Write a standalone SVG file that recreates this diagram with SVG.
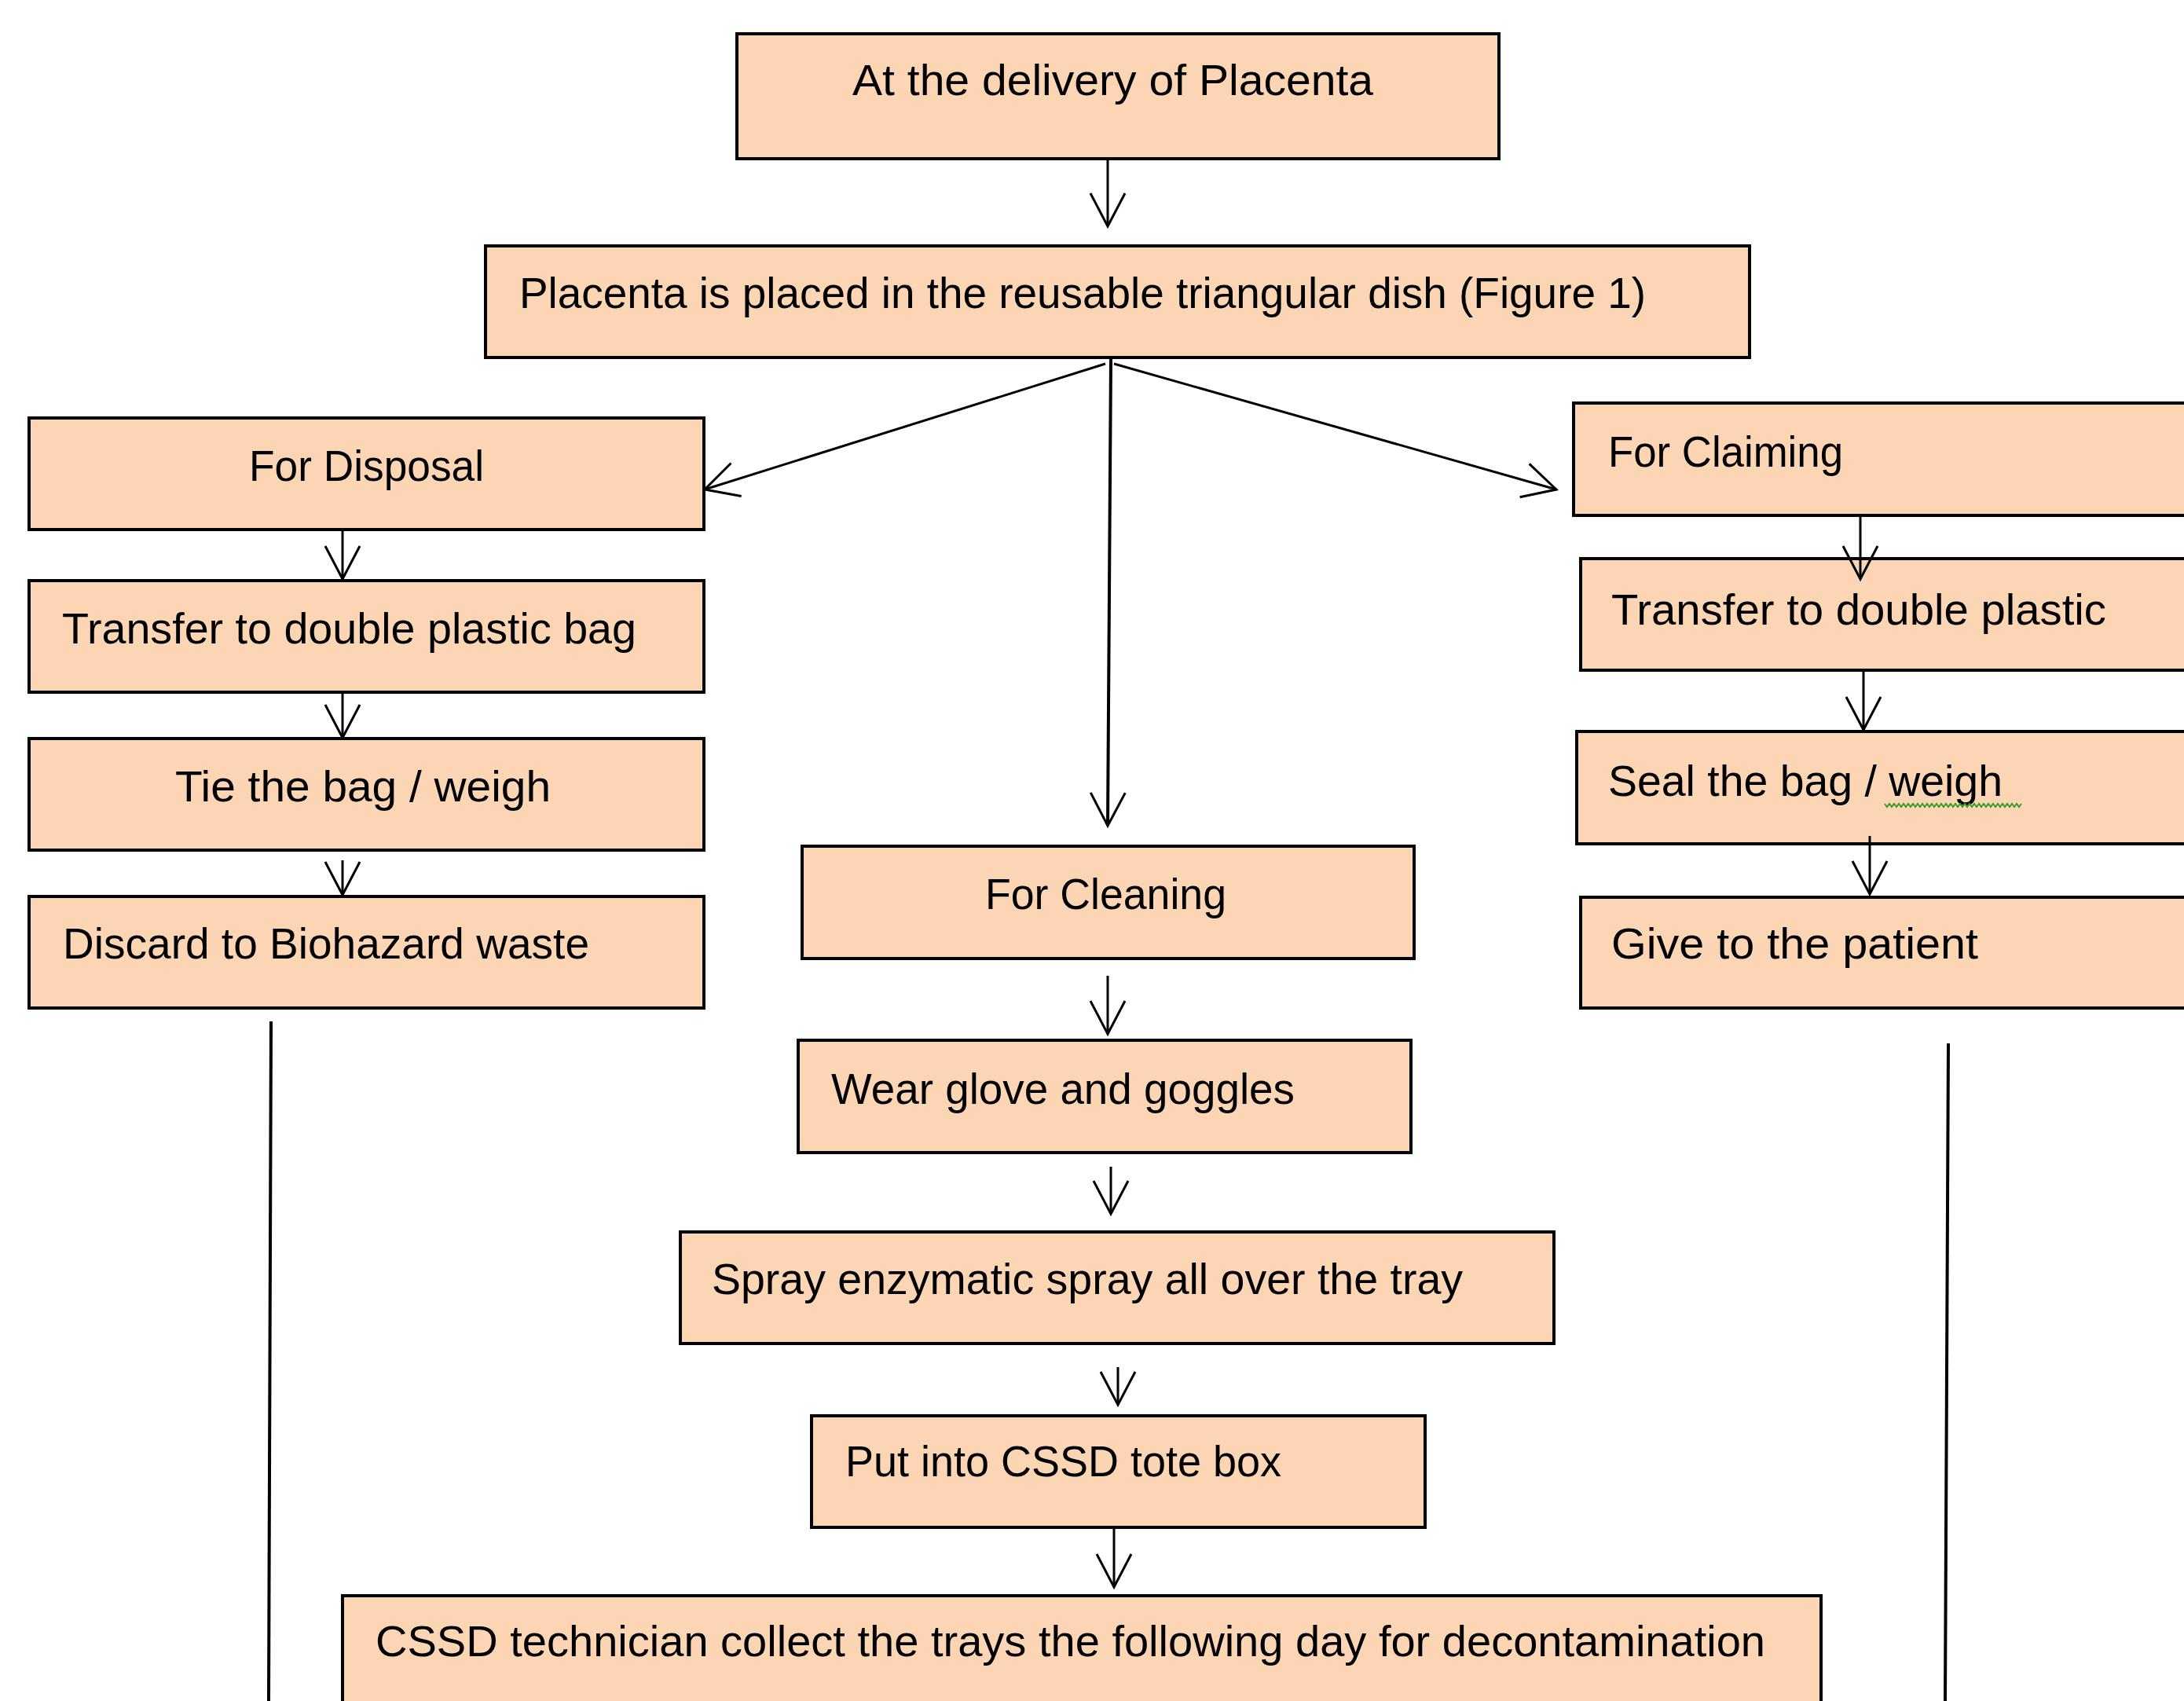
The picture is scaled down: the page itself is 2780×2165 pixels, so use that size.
<svg xmlns="http://www.w3.org/2000/svg" width="2780" height="2165" viewBox="0 0 2780 2165">
<style>
.box{fill:#FCD5B5;stroke:#000;stroke-width:4}
.t{font-family:"Liberation Sans",Arial,sans-serif;font-size:56px;fill:#000}
.c{stroke:#000;stroke-width:3;fill:none}
.v{stroke:#000;stroke-width:4;fill:none}
</style>
<defs>
<marker id="ah" markerUnits="userSpaceOnUse" viewBox="-50 -50 100 100" markerWidth="100" markerHeight="100" refX="0" refY="0" orient="auto" overflow="visible">
<path d="M-42,-22 L0,0 L-42,22" fill="none" stroke="#000" stroke-width="3"/>
</marker>
</defs>
<rect width="2780" height="2165" fill="#fff"/>
<g id="n1"><rect class="box" x="938" y="43" width="970" height="159"/><text class="t" x="1085" y="121" textLength="663" lengthAdjust="spacingAndGlyphs">At the delivery of Placenta</text></g>
<g id="n2"><rect class="box" x="618" y="313" width="1609" height="142"/><text class="t" x="661" y="392" textLength="1434" lengthAdjust="spacingAndGlyphs">Placenta is placed in the reusable triangular dish (Figure 1)</text></g>
<g id="disposal"><rect class="box" x="37" y="532" width="859" height="142"/><text class="t" x="317" y="612" textLength="299" lengthAdjust="spacingAndGlyphs">For Disposal</text></g>
<g id="transferL"><rect class="box" x="37" y="739" width="859" height="142"/><text class="t" x="79" y="819" textLength="731" lengthAdjust="spacingAndGlyphs">Transfer to double plastic bag</text></g>
<g id="tie"><rect class="box" x="37" y="940" width="859" height="142"/><text class="t" x="223" y="1020" textLength="478" lengthAdjust="spacingAndGlyphs">Tie the bag / weigh</text></g>
<g id="discard"><rect class="box" x="37" y="1141" width="859" height="142"/><text class="t" x="80" y="1220" textLength="670" lengthAdjust="spacingAndGlyphs">Discard  to Biohazard waste</text></g>
<g id="claiming"><rect class="box" x="2003" y="513" width="800" height="143"/><text class="t" x="2047" y="594" textLength="299" lengthAdjust="spacingAndGlyphs">For Claiming</text></g>
<g id="transferR"><rect class="box" x="2012" y="711" width="800" height="142"/><text class="t" x="2051" y="795" textLength="630" lengthAdjust="spacingAndGlyphs">Transfer to double plastic</text></g>
<g id="seal"><rect class="box" x="2007" y="931" width="800" height="143"/><text class="t" x="2047" y="1013" textLength="502" lengthAdjust="spacingAndGlyphs">Seal the bag / weigh</text><polyline fill="none" stroke="#3E9A2A" stroke-width="2" points="2399,1023 2402,1027 2405,1023 2408,1027 2411,1023 2414,1027 2417,1023 2420,1027 2423,1023 2426,1027 2429,1023 2432,1027 2435,1023 2438,1027 2441,1023 2444,1027 2447,1023 2450,1027 2453,1023 2456,1027 2459,1023 2462,1027 2465,1023 2468,1027 2471,1023 2474,1027 2477,1023 2480,1027 2483,1023 2486,1027 2489,1023 2492,1027 2495,1023 2498,1027 2501,1023 2504,1027 2507,1023 2510,1027 2513,1023 2516,1027 2519,1023 2522,1027 2525,1023 2528,1027 2531,1023 2534,1027 2537,1023 2540,1027 2543,1023 2546,1027 2549,1023 2552,1027 2555,1023 2558,1027 2561,1023 2564,1027 2567,1023 2570,1027 2573,1023"/></g>
<g id="give"><rect class="box" x="2012" y="1142" width="800" height="141"/><text class="t" x="2051" y="1220" textLength="467" lengthAdjust="spacingAndGlyphs">Give to the patient</text></g>
<g id="cleaning"><rect class="box" x="1021" y="1077" width="779" height="143"/><text class="t" x="1254" y="1157" textLength="307" lengthAdjust="spacingAndGlyphs">For Cleaning</text></g>
<g id="wear"><rect class="box" x="1016" y="1324" width="780" height="143"/><text class="t" x="1058" y="1405" textLength="590" lengthAdjust="spacingAndGlyphs">Wear glove and goggles</text></g>
<g id="spray"><rect class="box" x="866" y="1568" width="1112" height="142"/><text class="t" x="906" y="1647" textLength="956" lengthAdjust="spacingAndGlyphs">Spray enzymatic spray all over the tray</text></g>
<g id="put"><rect class="box" x="1033" y="1802" width="781" height="142"/><text class="t" x="1076" y="1879" textLength="555" lengthAdjust="spacingAndGlyphs">Put into CSSD tote box</text></g>
<g id="cssd"><rect class="box" x="436" y="2031" width="1882" height="160"/><text class="t" x="478" y="2108" textLength="1769" lengthAdjust="spacingAndGlyphs">CSSD technician collect the trays the following day for decontamination</text></g>
<g id="connectors">
<line class="c" x1="1410" y1="203" x2="1410" y2="288" marker-end="url(#ah)"/>
<line class="c" x1="1407" y1="463" x2="897" y2="623" marker-end="url(#ah)"/>
<line class="c" x1="1418" y1="463" x2="1981" y2="623" marker-end="url(#ah)"/>
<line class="v" x1="1414" y1="457" x2="1410" y2="1051" marker-end="url(#ah)"/>
<line class="c" x1="436" y1="675" x2="436" y2="737" marker-end="url(#ah)"/>
<line class="c" x1="436" y1="881" x2="436" y2="939" marker-end="url(#ah)"/>
<line class="c" x1="436" y1="1095" x2="436" y2="1139" marker-end="url(#ah)"/>
<line class="c" x1="2368" y1="656" x2="2368" y2="737" marker-end="url(#ah)"/>
<line class="c" x1="2372" y1="853" x2="2372" y2="929" marker-end="url(#ah)"/>
<line class="c" x1="2380" y1="1064" x2="2380" y2="1138" marker-end="url(#ah)"/>
<line class="c" x1="1410" y1="1242" x2="1410" y2="1316" marker-end="url(#ah)"/>
<line class="c" x1="1414" y1="1485" x2="1414" y2="1545" marker-end="url(#ah)"/>
<line class="c" x1="1423" y1="1740" x2="1423" y2="1788" marker-end="url(#ah)"/>
<line class="c" x1="1418" y1="1945" x2="1418" y2="2020" marker-end="url(#ah)"/>
<line class="v" x1="345" y1="1300" x2="342" y2="2165"/>
<line class="v" x1="2480" y1="1328" x2="2476" y2="2165"/>
</g>
</svg>
